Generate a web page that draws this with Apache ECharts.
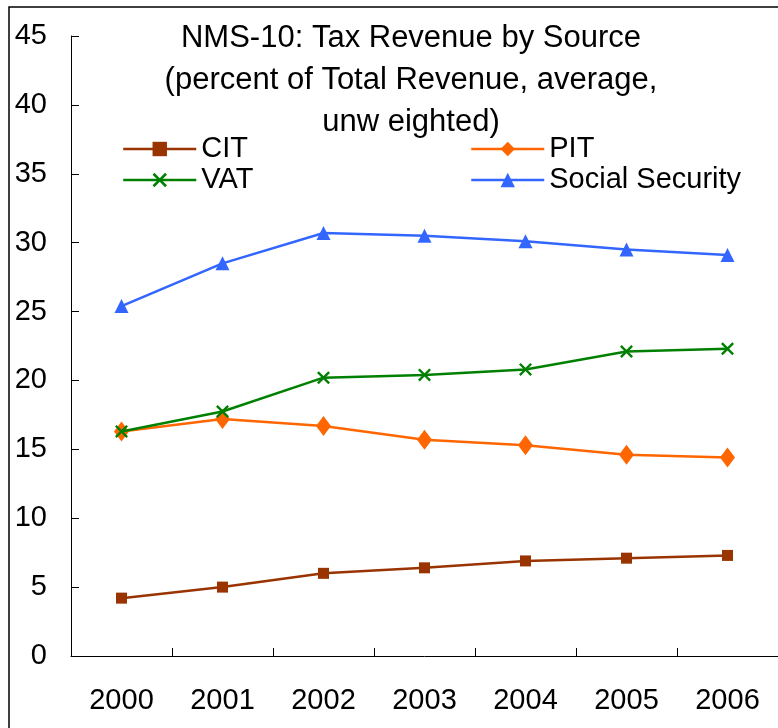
<!DOCTYPE html>
<html>
<head>
<meta charset="utf-8">
<script src="https://cdn.jsdelivr.net/npm/echarts@6/dist/echarts.min.js"></script>
<style>
html,body{margin:0;padding:0;background:#fff;}
#chart{width:778px;height:728px;}
</style>
</head>
<body>
<div id="chart"></div>
<script>
var years = ['2000','2001','2002','2003','2004','2005','2006'];
var cit = [4.2, 5.0, 6.0, 6.4, 6.9, 7.1, 7.3];
var pit = [16.3, 17.2, 16.7, 15.7, 15.3, 14.6, 14.4];
var vat = [16.3, 17.75, 20.2, 20.4, 20.8, 22.1, 22.3];
var socialSecurity = [25.4, 28.5, 30.7, 30.5, 30.1, 29.5, 29.1];
var titleText = 'NMS-10: Tax Revenue by Source\n(percent of Total Revenue, average,\nunw eighted)';

var FONT = 'Liberation Sans, Arial, sans-serif';
var xPath = 'path://M0,1.3L1.3,0L5,3.7L8.7,0L10,1.3L6.3,5L10,8.7L8.7,10L5,6.3L1.3,10L0,8.7L3.7,5Z';

var chart = echarts.init(document.getElementById('chart'), null, {renderer:'canvas'});
function mk(name, data, color, symbol, size, z){
  return {
    name: name, type: 'line', data: data, z: z,
    symbol: symbol, symbolSize: size, showAllSymbol: true,
    lineStyle: {color: color, width: 2.5},
    itemStyle: {color: color},
    emphasis: {disabled: true},
    animation: false
  };
}
var legendCommon = {
  orient: 'vertical', top: 134, padding: 0,
  itemWidth: 73, itemHeight: 18, itemGap: 1,
  lineStyle: {width: 2.5},
  textStyle: {fontFamily: FONT, fontSize: 29, color: '#000', lineHeight: 30}
};
chart.setOption({
  animation: false,
  backgroundColor: '#fff',
  textStyle: {fontFamily: FONT},
  graphic: [{
    type: 'rect', silent: true, z: -1,
    shape: {x: 9, y: 7, width: 900, height: 900},
    style: {fill: 'none', stroke: '#000', lineWidth: 1.5}
  }],
  title: {
    text: titleText,
    left: 406, top: 12, textAlign: 'center',
    textStyle: {fontFamily: FONT, fontSize: 31, fontWeight: 'normal', color: '#000', lineHeight: 42}
  },
  legend: [
    Object.assign({data: ['CIT','VAT'], left: 122}, legendCommon),
    Object.assign({data: ['PIT','Social Security'], left: 470}, legendCommon)
  ],
  grid: {left: 71, right: 0, top: 36, bottom: 72, containLabel: false},
  xAxis: {
    type: 'category', data: years, boundaryGap: true,
    axisLine: {lineStyle: {color: '#000', width: 1}},
    axisTick: {show: true, inside: true, length: 8, lineStyle: {color: '#000'}},
    axisLabel: {fontFamily: FONT, fontSize: 29, color: '#000', margin: 30},
    splitLine: {show: false}
  },
  yAxis: {
    type: 'value', min: 0, max: 45, interval: 5,
    axisLine: {show: true, lineStyle: {color: '#000', width: 1}},
    axisTick: {show: true, inside: true, length: 8, lineStyle: {color: '#000'}},
    axisLabel: {fontFamily: FONT, fontSize: 29, color: '#000', margin: 24},
    splitLine: {show: false}
  },
  series: [
    mk('CIT', cit, '#993300', 'rect', 11, 2),
    mk('PIT', pit, '#FF6600', 'diamond', [15, 20], 2),
    mk('VAT', vat, '#008000', xPath, 13, 3),
    mk('Social Security', socialSecurity, '#3366FF', 'triangle', 14, 2)
  ]
});
</script>
</body>
</html>
